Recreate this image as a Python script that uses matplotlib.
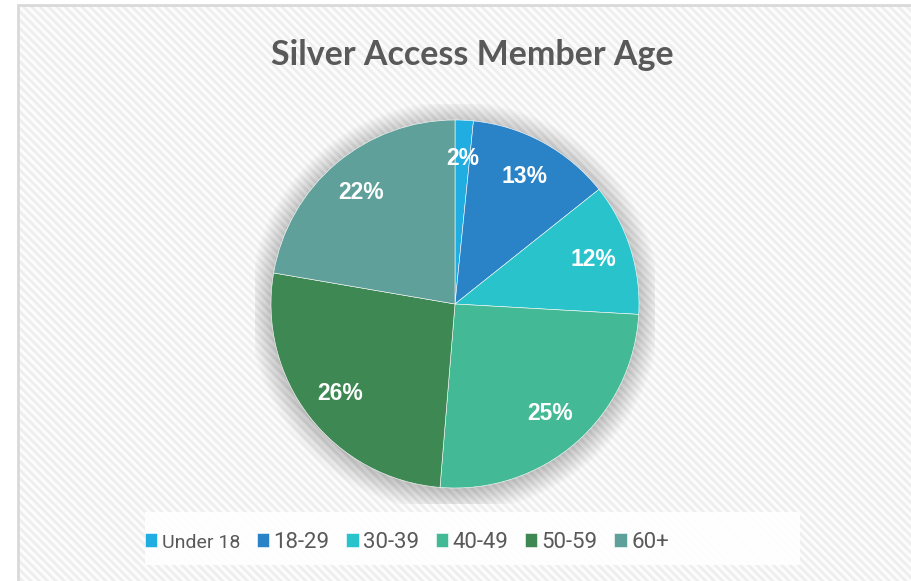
import matplotlib.pyplot as plt
from matplotlib.patches import Rectangle, Circle

# data
labels = ["Under 18", "18-29", "30-39", "40-49", "50-59", "60+"]
shares = [1.6, 12.7, 11.6, 25.4, 26.4, 22.3]
colors = ["#1FADE2", "#2A83C7", "#29C3CB", "#44B995", "#3D8853", "#5FA09A"]

W, H = 912, 581
fig = plt.figure(figsize=(W / 100, H / 100), dpi=100)
fig.patch.set_facecolor("white")

# chart area: white with diagonal light-grey stripes, grey frame
plt.rcParams["hatch.linewidth"] = 2.0
bg = Rectangle((18 / W, -0.05), 1.0, (H - 5) / H + 0.05, transform=fig.transFigure,
               facecolor="#FCFCFC", edgecolor="#EEEEEE", linewidth=0,
               hatch="\\\\\\\\", zorder=0)
fig.patches.append(bg)
frame = Rectangle((18 / W, -0.05), 1.0, (H - 5) / H + 0.05, transform=fig.transFigure,
                  facecolor="none", edgecolor="#D9D9D9", linewidth=2, zorder=1)
fig.patches.append(frame)

# pie axes: centre (455, 304) px, radius 184 px
cx, cy, r = 455, 304, 184
half = 200
ax = fig.add_axes([(cx - half) / W, (H - cy - half) / H, 2 * half / W, 2 * half / H])
ax.set_zorder(2)
ax.patch.set_visible(False)

wedges, texts, autotexts = ax.pie(
    shares, colors=colors, startangle=90, counterclock=False,
    autopct="%1.0f%%", pctdistance=0.79, radius=1.0,
    wedgeprops=dict(edgecolor="white", linewidth=0.4),
    textprops=dict(color="white", fontsize=16.5, fontweight="bold",
                   family=["Liberation Sans", "DejaVu Sans"]))

# soft shadow around the pie
for k in range(18):
    ax.add_patch(Circle((0, -0.015), 1.0 + k * 0.007, facecolor="black",
                        edgecolor="none", alpha=0.011, zorder=0))

lim = half / r
ax.set_xlim(-lim, lim)
ax.set_ylim(-lim, lim)
ax.set_aspect("equal")
ax.axis("off")

fig.text(472 / W, 1 - 55 / H, "Silver Access Member Age", ha="center", va="center",
         fontsize=24.5, fontweight="bold", color="#595959",
         family=["Lato", "DejaVu Sans"])

# legend box
fig.patches.append(Rectangle((145 / W, 1 - 565 / H), 655 / W, 53 / H,
                             transform=fig.transFigure, facecolor="white",
                             edgecolor="none", alpha=0.9, zorder=3))
leg = fig.legend(wedges, labels, loc="center", bbox_to_anchor=(407 / W, 1 - 542 / H),
                 ncol=6, frameon=False, handlelength=0.55,
                 handleheight=0.6, handletextpad=0.2, columnspacing=0.75,
                 prop=dict(family=["Roboto", "DejaVu Sans"], size=16))
leg.set_zorder(4)
for t in leg.get_texts():
    t.set_color("#595959")
leg.get_texts()[0].set_fontsize(14)

fig.savefig("out.png", dpi=100)
